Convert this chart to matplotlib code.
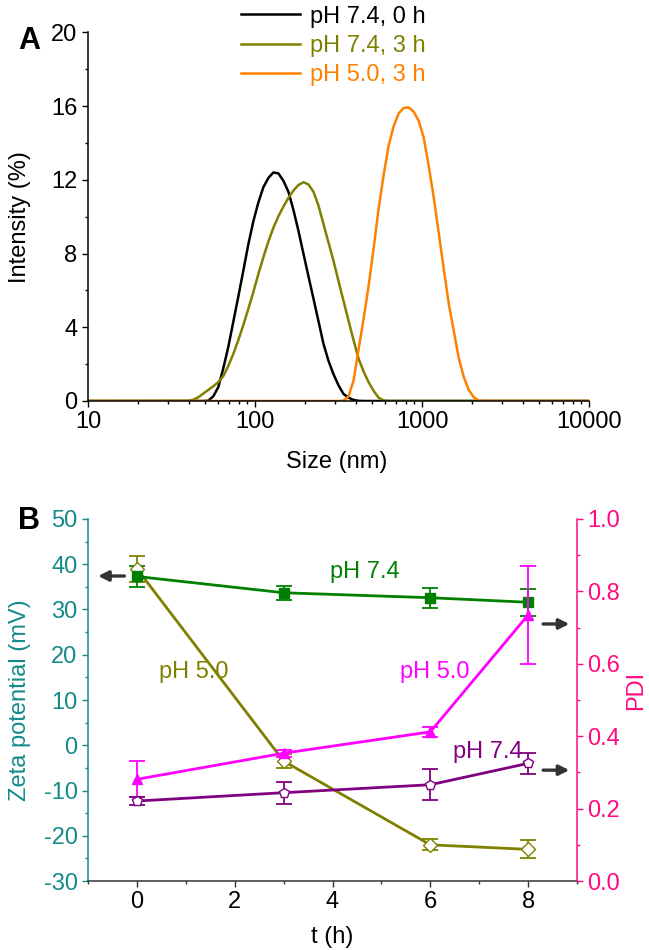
import numpy as np
import matplotlib
matplotlib.use("Agg")
import matplotlib.pyplot as plt
from matplotlib.ticker import MultipleLocator, LogLocator, NullFormatter

plt.rcParams['font.family'] = ['Liberation Sans', 'DejaVu Sans']
plt.rcParams['font.size'] = 17
plt.rcParams['axes.unicode_minus'] = False

# ---- panel A: DLS size distributions ----
size_nm = [10,
           39.81, 42.66, 45.71, 48.98, 52.48, 56.23, 60.26, 64.57, 69.18, 74.13,
           79.43, 85.11, 91.20, 97.72, 104.7, 112.2, 120.2, 128.8, 138.0, 147.9,
           158.5, 169.8, 182.0, 195.0, 208.9, 223.9, 239.9, 257.0, 275.4, 295.1,
           316.2, 338.8, 363.1, 389.0, 416.9, 446.7, 478.6, 512.9, 549.5, 588.8,
           631.0, 676.1, 724.4, 776.2, 831.8, 891.3, 955.0, 1023, 1096, 1175,
           1259, 1349, 1445, 1549, 1660, 1778, 1905, 2042, 2188, 2344,
           2512,
           10000]

int_74_0h = [0,
             0, 0, 0, 0, 0.02, 0.25, 0.75, 1.77, 2.93, 4.3,
             5.66, 7.07, 8.5, 9.75, 10.77, 11.6, 12.1, 12.4, 12.35, 11.95,
             11.35, 10.37, 9.23, 7.99, 6.77, 5.55, 4.33, 3.1, 2.18, 1.45,
             0.85, 0.38, 0.18, 0.06, 0.01, 0, 0, 0, 0, 0,
             0, 0, 0, 0, 0, 0, 0, 0, 0, 0,
             0, 0, 0, 0, 0, 0, 0, 0, 0, 0,
             0,
             0]

int_74_3h = [0,
             0.01, 0.07, 0.2, 0.4, 0.6, 0.8, 1.02, 1.35, 1.9, 2.55,
             3.3, 4.12, 5.0, 5.92, 6.88, 7.8, 8.65, 9.4, 10.02, 10.55,
             11.02, 11.42, 11.72, 11.87, 11.75, 11.35, 10.6, 9.6, 8.6, 7.6,
             6.5, 5.43, 4.35, 3.3, 2.3, 1.6, 1.02, 0.55, 0.18, 0.03,
             0, 0, 0, 0, 0, 0, 0, 0, 0, 0,
             0, 0, 0, 0, 0, 0, 0, 0, 0, 0,
             0,
             0]

int_50_3h = [0,
             0, 0, 0, 0, 0, 0, 0, 0, 0, 0,
             0, 0, 0, 0, 0, 0, 0, 0, 0, 0,
             0, 0, 0, 0, 0, 0, 0, 0, 0, 0,
             0, 0.02, 0.25, 1.1, 2.8, 4.45, 6.23, 8.27, 10.43, 12.25,
             13.85, 14.9, 15.6, 15.9, 15.93, 15.7, 15.2, 14.3, 12.76, 11.05,
             9.12, 7.18, 5.29, 3.8, 2.32, 1.3, 0.6, 0.2, 0.03, 0,
             0,
             0]

dls_labels = ['pH 7.4, 0 h', 'pH 7.4, 3 h', 'pH 5.0, 3 h']
dls_colors = ['black', '#808000', '#FF8000']

# ---- panel B: zeta potential and PDI ----
t_h = [0, 3, 6, 8]
zeta_74 = [37.3, 33.7, 32.6, 31.6]
zeta_74_err = [2.4, 1.5, 2.2, 3.0]
zeta_50 = [39.0, -3.5, -22.0, -23.0]
zeta_50_err = [2.9, 1.5, 1.2, 2.0]
pdi_50 = [0.281, 0.353, 0.412, 0.735]
pdi_50_err = [0.05, 0.01, 0.014, 0.135]
pdi_74 = [0.221, 0.244, 0.266, 0.325]
pdi_74_err = [0.01, 0.03, 0.043, 0.028]

teal = '#148A8A'
pink = '#FF0A7F'
gray = '#333333'

fig = plt.figure(figsize=(6.49, 9.5), dpi=100)

# panel A
axA = fig.add_axes([0.1356, 0.5779, 0.772, 0.388])
for y, lab, c in zip([int_74_0h, int_74_3h, int_50_3h], dls_labels, dls_colors):
    axA.plot(size_nm, y, color=c, lw=1.8, label=lab)
axA.set_xscale('log')
axA.set_xlim(10, 10000)
axA.set_ylim(0, 20)
axA.yaxis.set_major_locator(MultipleLocator(4))
axA.yaxis.set_minor_locator(MultipleLocator(2))
axA.xaxis.set_minor_locator(LogLocator(base=10, subs=np.arange(2, 10)))
axA.xaxis.set_minor_formatter(NullFormatter())
axA.set_xticks([10, 100, 1000, 10000])
axA.set_xticklabels(['10', '100', '1000', '10000'])
axA.spines['top'].set_visible(False)
axA.spines['right'].set_visible(False)
for s in ['left', 'bottom']:
    axA.spines[s].set_linewidth(1.1)
axA.tick_params(which='major', direction='out', length=4.5, width=1.0, pad=3)
axA.tick_params(which='minor', direction='out', length=2.5, width=1.0)
axA.legend(loc='upper left', bbox_to_anchor=(0.372, 0.994), bbox_transform=fig.transFigure,
           frameon=False, borderpad=0, borderaxespad=0, handlelength=2.5,
           handletextpad=0.4, labelspacing=0.3, labelcolor='linecolor')
fig.text(0.045, 0.957, 'A', fontsize=22, fontweight='bold', ha='center', va='center')
fig.text(0.031, 0.771, 'Intensity (%)', rotation=90, ha='center', va='center')
fig.text(0.519, 0.514, 'Size (nm)', ha='center', va='center')

# panel B
axB = fig.add_axes([0.1356, 0.0726, 0.7535, 0.3811])
axB.errorbar(t_h, zeta_50, yerr=zeta_50_err, fmt='-D', color='#808000', mfc='white',
             mec='#808000', ms=7.5, lw=2.0, elinewidth=1.3, capsize=6, capthick=1.3)
axB.errorbar(t_h, zeta_74, yerr=zeta_74_err, fmt='-s', color='#008000', ms=7.5,
             lw=2.0, elinewidth=1.3, capsize=6, capthick=1.3)
axB.set_xlim(-1, 9)
axB.set_ylim(-30, 50)
axB.xaxis.set_major_locator(MultipleLocator(2))
axB.xaxis.set_minor_locator(MultipleLocator(1))
axB.yaxis.set_major_locator(MultipleLocator(10))
axB.yaxis.set_minor_locator(MultipleLocator(5))
axB.spines['top'].set_visible(False)
axB.spines['right'].set_visible(False)
axB.spines['left'].set_color(teal)
axB.spines['bottom'].set_color(gray)
for s in ['left', 'bottom']:
    axB.spines[s].set_linewidth(1.1)
axB.tick_params(axis='y', which='both', colors=teal)
axB.tick_params(axis='x', which='both', colors=gray, labelcolor='black')
axB.tick_params(which='major', direction='out', length=4.5, width=1.0, pad=3)
axB.tick_params(which='minor', direction='out', length=2.5, width=1.0)

axP = axB.twinx()
axP.errorbar(t_h, pdi_50, yerr=pdi_50_err, fmt='-^', color='#FF00FF', ms=7.5,
             lw=2.0, elinewidth=1.3, capsize=6, capthick=1.3)
axP.errorbar(t_h, pdi_74, yerr=pdi_74_err, fmt='-p', color='#800080', mfc='white',
             mec='#800080', ms=7.5, lw=2.0, elinewidth=1.3, capsize=6, capthick=1.3)
axP.set_ylim(0, 1.0)
axP.yaxis.set_major_locator(MultipleLocator(0.2))
axP.yaxis.set_minor_locator(MultipleLocator(0.1))
for s in ['top', 'left', 'bottom']:
    axP.spines[s].set_visible(False)
axP.spines['right'].set_color(pink)
axP.spines['right'].set_linewidth(1.1)
axP.tick_params(axis='y', which='both', colors=pink)
axP.tick_params(which='major', direction='out', length=4.5, width=1.0, pad=3)
axP.tick_params(which='minor', direction='out', length=2.5, width=1.0)

axB.text(4.67, 38.3, 'pH 7.4', color='#008000', ha='center', va='center')
axB.text(1.16, 16.2, 'pH 5.0', color='#808000', ha='center', va='center')
axB.text(6.1, 16.2, 'pH 5.0', color='#FF00FF', ha='center', va='center')
axB.text(7.17, -1.5, 'pH 7.4', color='#800080', ha='center', va='center')

arrow = dict(arrowstyle='-|>', color=gray, lw=2.4, mutation_scale=15)
axB.annotate('', xy=(-0.85, 37.4), xytext=(-0.2, 37.4), arrowprops=arrow)
axB.annotate('', xy=(8.9, 26.8), xytext=(8.25, 26.8), arrowprops=arrow)
axB.annotate('', xy=(8.9, -5.5), xytext=(8.25, -5.5), arrowprops=arrow)

fig.text(0.045, 0.452, 'B', fontsize=22, fontweight='bold', ha='center', va='center')
fig.text(0.031, 0.263, 'Zeta potential (mV)', rotation=90, ha='center', va='center', color=teal)
fig.text(0.98, 0.273, 'PDI', rotation=90, ha='center', va='center', color=pink)
fig.text(0.512, 0.014, 't (h)', ha='center', va='center')

fig.savefig('out.png', dpi=100)
